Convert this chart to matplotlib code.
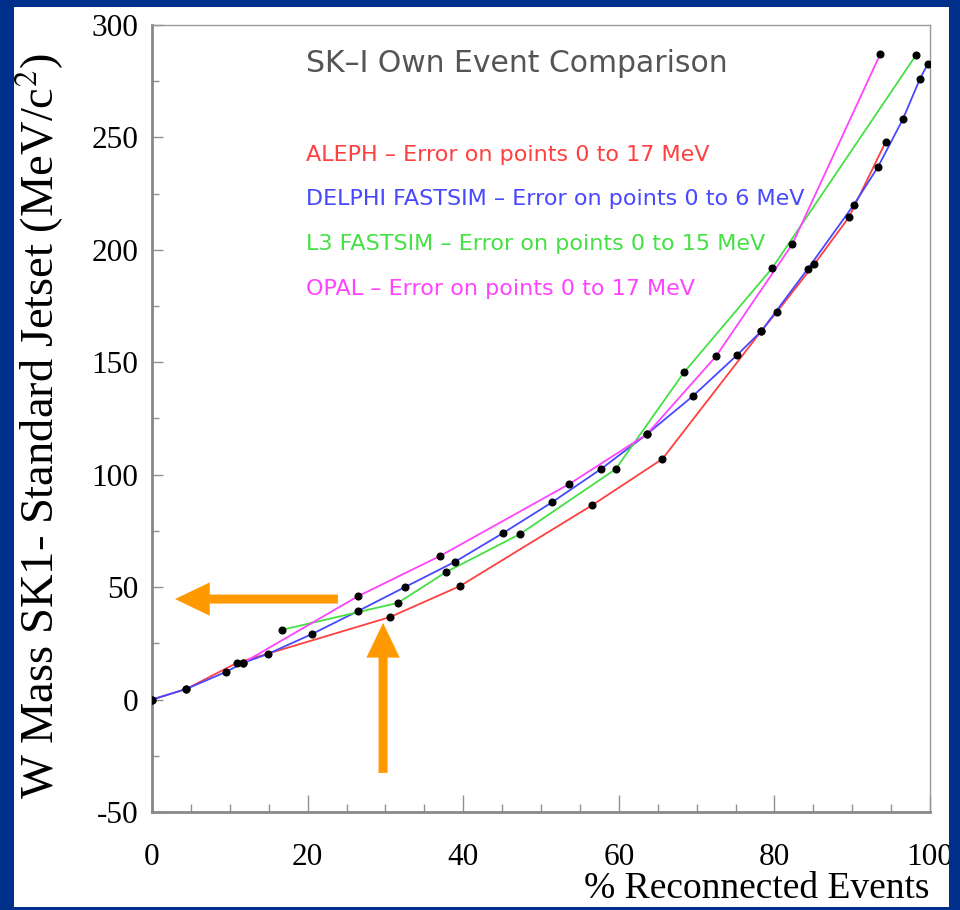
import matplotlib
matplotlib.use("Agg")
import matplotlib.pyplot as plt
from matplotlib.patches import Rectangle

# Data (% reconnected events, mass shift in MeV/c^2)
aleph_x = [0, 4.4, 10.9, 30.6, 39.6, 56.6, 65.6, 78.3, 80.3, 85.1, 89.6, 94.3]
aleph_y = [0, 4.7, 16.3, 36.7, 50.5, 86.5, 107, 163.8, 172.3, 193.5, 214.6, 248]

delphi_x = [0, 4.4, 9.5, 11.7, 14.9, 20.6, 26.5, 32.5, 38.9, 45.1, 51.4, 57.7,
            63.6, 69.5, 75.2, 78.3, 84.3, 90.2, 93.3, 96.5, 98.7, 99.7]
delphi_y = [0, 4.7, 12.3, 16.3, 20.3, 29.2, 39.4, 50, 61.2, 74, 87.7, 102.5,
            118, 134.9, 153.2, 163.8, 191.6, 220, 236.8, 258, 276, 282.6]

l3_x = [16.7, 31.6, 37.8, 47.3, 59.6, 68.4, 79.7, 98.2]
l3_y = [31, 43, 56.7, 73.6, 102.5, 145.6, 191.8, 286.6]

opal_x = [11.7, 26.5, 37, 53.6, 63.6, 72.5, 82.3, 93.6]
opal_y = [16.3, 46, 63.8, 95.8, 118, 152.7, 202.5, 287]

series_labels = ["ALEPH \u2013 Error on points 0 to 17 MeV",
                 "DELPHI FASTSIM \u2013 Error on points 0 to 6 MeV",
                 "L3 FASTSIM \u2013 Error on points 0 to 15 MeV",
                 "OPAL \u2013 Error on points 0 to 17 MeV"]
series_colors = ["#ff4040", "#4848ff", "#44e044", "#ff44ff"]

plt.rcParams['mathtext.fontset'] = 'stix'
plt.rcParams['axes.unicode_minus'] = False

fig = plt.figure(figsize=(9.6, 9.1), dpi=100)
fig.patch.set_facecolor("#00308c")

# white slide panel
panel = Rectangle((14 / 960, 3 / 910), 935 / 960, 900 / 910,
                  transform=fig.transFigure, facecolor="white",
                  edgecolor="none", zorder=-10)
fig.patches.append(panel)

ax = fig.add_axes([152 / 960, 98 / 910, 778 / 960, 787 / 910])
ax.set_facecolor("white")

all_x = [aleph_x, delphi_x, l3_x, opal_x]
all_y = [aleph_y, delphi_y, l3_y, opal_y]
for xs, ys, col in zip(all_x, all_y, series_colors):
    ax.plot(xs, ys, color=col, lw=1.3, zorder=3)
for xs, ys in zip(all_x, all_y):
    ax.plot(xs, ys, ls="none", marker="o", ms=4.8, color="black", zorder=4)

ax.set_xlim(0, 100)
ax.set_ylim(-50, 300)
ax.set_xticks([0, 20, 40, 60, 80, 100])
ax.set_xticks(range(0, 101, 5), minor=True)
ax.set_yticks(range(-50, 301, 50))
ax.set_yticks(range(-50, 301, 25), minor=True)
ax.tick_params(axis="x", which="major", direction="in", length=12, width=1,
               color="#909090", pad=22)
ax.tick_params(axis="x", which="minor", direction="in", length=6, width=1,
               color="#909090")
ax.tick_params(axis="y", which="major", direction="in", length=8, width=1,
               color="#909090", pad=10)
ax.tick_params(axis="y", which="minor", direction="in", length=5, width=1,
               color="#909090")
for lbl in ax.get_xticklabels() + ax.get_yticklabels():
    lbl.set_family("Liberation Serif")
    lbl.set_fontsize(22.5)
for lbl in ax.get_xticklabels():
    lbl.set_clip_path(panel)

for side in ["left", "bottom"]:
    ax.spines[side].set_color("#888888")
    ax.spines[side].set_linewidth(2)
for side in ["top", "right"]:
    ax.spines[side].set_color("#999999")
    ax.spines[side].set_linewidth(1)

ax.set_ylabel(r"W Mass SK1- Standard Jetset (MeV/c$^2$)",
              family="Liberation Serif", fontsize=33.5)
ax.yaxis.set_label_coords(-0.110, 0.49)
ax.set_xlabel("% Reconnected Events", family="Liberation Serif", fontsize=27,
              loc="right")
ax.xaxis.set_label_coords(1.0, -0.076)

ax.text(0.198, 0.951, "SK\u2013I Own Event Comparison", transform=ax.transAxes,
        fontsize=21.5, color="#555555", va="center", ha="left",
        family="DejaVu Sans")
label_y = [0.835, 0.779, 0.722, 0.665]
for txt, col, yy in zip(series_labels, series_colors, label_y):
    ax.text(0.198, yy, txt, transform=ax.transAxes, fontsize=16,
            color=col, va="center", ha="left", family="DejaVu Sans")

# orange arrows
arrow_style = "simple,head_length=25,head_width=24,tail_width=6.5"
ax.annotate("", xy=(2.96, 44.7), xytext=(23.9, 44.7),
            arrowprops=dict(arrowstyle=arrow_style, mutation_scale=1,
                            color="#ff9900", lw=0, shrinkA=0, shrinkB=0),
            zorder=5)
ax.annotate("", xy=(29.7, 34.1), xytext=(29.7, -32.6),
            arrowprops=dict(arrowstyle=arrow_style, mutation_scale=1,
                            color="#ff9900", lw=0, shrinkA=0, shrinkB=0),
            zorder=5)

fig.savefig("out.png", dpi=100, facecolor=fig.get_facecolor())
